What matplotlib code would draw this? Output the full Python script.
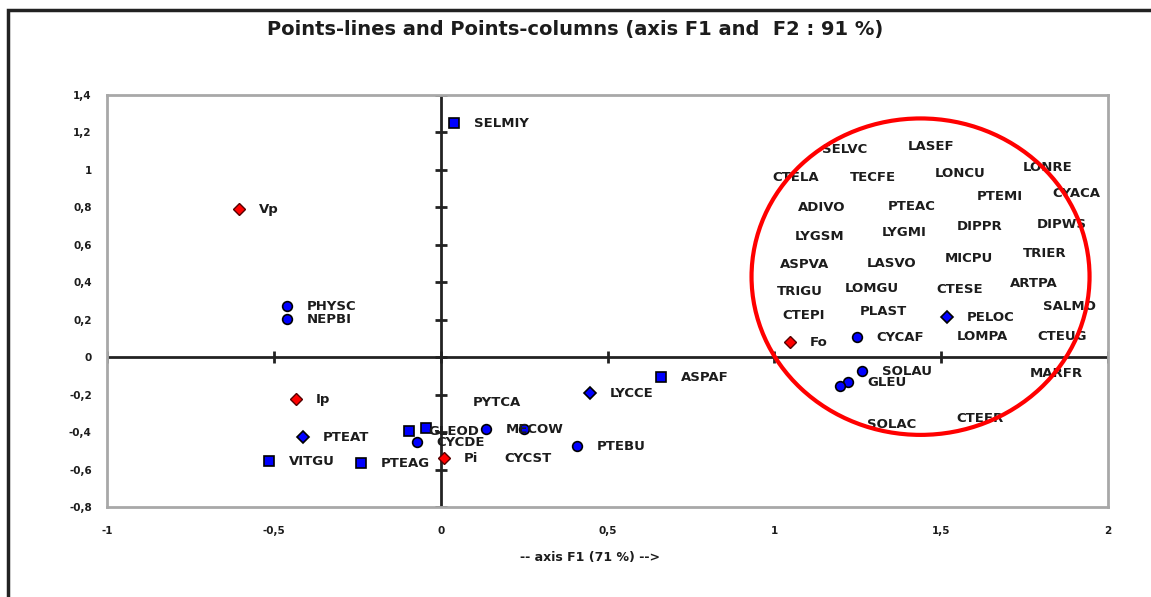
import matplotlib
matplotlib.use("Agg")
import matplotlib.pyplot as plt
from matplotlib.patches import Ellipse, Rectangle
from matplotlib.ticker import FuncFormatter
import numpy as np

# columns (red diamonds)
red_names = ['Vp', 'Ip', 'Fo', 'Pi']
red_x = [-0.605, -0.435, 1.046, 0.009]
red_y = [0.79, -0.224, 0.08, -0.539]

# lines drawn as squares
sq_names = ['SELMIY', 'VITGU', 'PTEAG', 'GLEOD', '', 'ASPAF']
sq_x = [0.039, -0.515, -0.24, -0.096, -0.045, 0.659]
sq_y = [1.249, -0.555, -0.566, -0.395, -0.379, -0.107]

# lines drawn as circles
circ_names = ['PHYSC', 'NEPBI', 'CYCDE', 'MECOW', '', 'PTEBU', 'CYCAF', 'SOLAU', 'GLEU', '']
circ_x = [-0.461, -0.461, -0.072, 0.135, 0.249, 0.408, 1.247, 1.262, 1.22, 1.196]
circ_y = [0.272, 0.203, -0.454, -0.384, -0.384, -0.475, 0.107, -0.075, -0.133, -0.155]

# lines drawn as diamonds
dia_names = ['PTEAT', 'LYCCE', 'PELOC']
dia_x = [-0.414, 0.447, 1.516]
dia_y = [-0.427, -0.192, 0.214]

# lines whose marker is hidden (only the label shows)
hid_names = ['SELVC', 'LASEF', 'CTELA', 'TECFE', 'LONCU', 'LONRE', 'PTEMI', 'CYACA',
             'ADIVO', 'PTEAC', 'DIPPR', 'DIPWS', 'LYGSM', 'LYGMI', 'MICPU', 'TRIER',
             'ASPVA', 'LASVO', 'ARTPA', 'TRIGU', 'LOMGU', 'CTESE', 'SALMO', 'CTEPI',
             'PLAST', 'LOMPA', 'CTEUG', 'MARFR', 'SOLAC', 'CTEFR', 'PYTCA', 'CYCST']
hid_x = [1.082, 1.34, 0.935, 1.166, 1.42, 1.684, 1.546, 1.774,
         1.01, 1.28, 1.486, 1.726, 1.00, 1.262, 1.45, 1.684,
         0.956, 1.217, 1.645, 0.947, 1.151, 1.426, 1.744, 0.965,
         1.196, 1.486, 1.729, 1.705, 1.217, 1.486, 0.036, 0.132]
hid_y = [1.11, 1.127, 0.961, 0.961, 0.982, 1.014, 0.86, 0.876,
         0.80, 0.806, 0.70, 0.71, 0.646, 0.667, 0.529, 0.555,
         0.497, 0.502, 0.395, 0.352, 0.368, 0.363, 0.272, 0.224,
         0.246, 0.112, 0.112, -0.086, -0.358, -0.326, -0.24, -0.539]

xticks = [-1, -0.5, 0, 0.5, 1, 1.5, 2]
yticks = [-0.8, -0.6, -0.4, -0.2, 0, 0.2, 0.4, 0.6, 0.8, 1, 1.2, 1.4]

plt.rcParams['font.family'] = ['DejaVu Sans']
txt_col = '#1c1c1c'

fig = plt.figure(figsize=(11.51, 5.97), dpi=100)
ax = fig.add_axes([0.093, 0.1508, 0.8697, 0.690])
ax.set_xlim(-1, 2)
ax.set_ylim(-0.8, 1.4)

for s in ax.spines.values():
    s.set_color('#a8a8a8')
    s.set_linewidth(2)

fmt = FuncFormatter(lambda v, p: ('%g' % round(v, 2)).replace('.', ','))
ax.set_xticks(xticks)
ax.set_yticks(yticks)
ax.xaxis.set_major_formatter(fmt)
ax.yaxis.set_major_formatter(fmt)
ax.tick_params(length=0, labelsize=7.5, labelcolor=txt_col)
ax.tick_params(axis='x', pad=14)
ax.tick_params(axis='y', pad=11)
for t in ax.get_xticklabels() + ax.get_yticklabels():
    t.set_fontweight('bold')

# crosshair axes with ticks
ax.axhline(0, color='#222222', lw=2, zorder=2)
ax.axvline(0, color='#222222', lw=2, zorder=2)
ax.plot(xticks, np.zeros(len(xticks)), ls='none', marker='|', ms=9, mew=2, color='#222222', zorder=2)
ax.plot(np.zeros(len(yticks)), yticks, ls='none', marker='_', ms=9, mew=2, color='#222222', zorder=2)

ax.plot(sq_x, sq_y, ls='none', marker='s', ms=7, mfc='#0000ff', mec='black', mew=1.2, zorder=4)
ax.plot(circ_x, circ_y, ls='none', marker='o', ms=7, mfc='#0000ff', mec='black', mew=1.2, zorder=4)
ax.plot(dia_x, dia_y, ls='none', marker='D', ms=6, mfc='#0000ff', mec='black', mew=1.2, zorder=4)
ax.plot(red_x, red_y, ls='none', marker='D', ms=6, mfc='#ff0000', mec='#550000', mew=1.0, zorder=5)

def label(names, xs, ys):
    for n, x, y in zip(names, xs, ys):
        if n:
            ax.annotate(n, (x, y), xytext=(14.4, 0), textcoords='offset points',
                        va='center', ha='left', fontsize=9.5, fontweight='bold',
                        color=txt_col, zorder=6)

label(red_names, red_x, red_y)
label(sq_names, sq_x, sq_y)
label(circ_names, circ_x, circ_y)
label(dia_names, dia_x, dia_y)
label(hid_names, hid_x, hid_y)

ax.add_patch(Ellipse((1.438, 0.43), 1.013, 1.69, fill=False, ec='#ff0000', lw=3, zorder=7))

fig.text(0.4996, 0.950, 'Points-lines and Points-columns (axis F1 and  F2 : 91 %)',
         ha='center', va='center', fontsize=14, fontweight='bold', color=txt_col)
fig.text(590 / 1151, 1 - 557 / 597, '-- axis F1 (71 %) -->', ha='center', va='center',
         fontsize=9, fontweight='bold', color=txt_col)

# outer chart border (right and bottom edges fall outside the picture)
fig.patches.append(Rectangle((8 / 1151, -0.2), 1.2, 1 - 10 / 597 + 0.2, fill=False,
                             ec='#222222', lw=2.5, transform=fig.transFigure))

fig.savefig('out.png', dpi=100)
